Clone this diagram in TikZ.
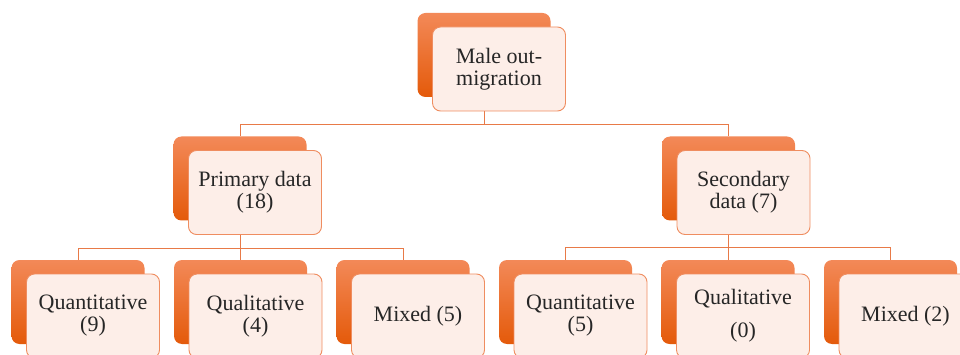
\documentclass[tikz,border=0pt]{standalone}
\usepackage{fontspec}
\setmainfont{Liberation Serif}
\usetikzlibrary{backgrounds}
\definecolor{boxtop}{RGB}{243,137,88}
\definecolor{boxbottom}{RGB}{228,90,10}
\definecolor{boxfill}{RGB}{253,238,232}
\definecolor{boxline}{RGB}{239,141,96}
\definecolor{linkline}{RGB}{232,122,72}
\begin{document}
\begin{tikzpicture}[x=1pt, y=-1pt,
    back/.style={rounded corners=8pt, minimum width=133pt, minimum height=84pt, inner sep=0pt, top color=boxtop, bottom color=boxbottom},
    front/.style={rounded corners=8pt, minimum width=133pt, minimum height=84pt, inner sep=0pt, fill=boxfill, draw=boxline, line width=0.9pt, align=center, text=black!85, font=\fontsize{22}{22}\selectfont},
    link/.style={draw=linkline, line width=0.9pt}]
\useasboundingbox (0,0) rectangle (960,355);
% back plates
\node[back] (top-b) at (484,55) {};
\node[back] (prim-b) at (240,178.5) {};
\node[back] (sec-b) at (728.5,178.5) {};
\node[back] (quant1-b) at (78,302) {};
\node[back] (qual1-b) at (240.5,302) {};
\node[back] (mixed1-b) at (403,302) {};
\node[back] (quant2-b) at (565.5,302) {};
\node[back] (qual2-b) at (728,302) {};
\node[back] (mixed2-b) at (890.5,302) {};
% front cards
\node[front] (top) at ([shift={(15,14)}]top-b) {Male out-\\migration};
\node[front] (prim) at ([shift={(15,14)}]prim-b) {Primary data\\(18)};
\node[front] (sec) at ([shift={(15,14)}]sec-b) {Secondary\\data (7)};
\node[front] (quant1) at ([shift={(15,14)}]quant1-b) {Quantitative\\(9)};
\node[front] (qual1) at ([shift={(15,14)}]qual1-b) {Qualitative\\(4)};
\node[front] (mixed1) at ([shift={(15,14)}]mixed1-b) {Mixed (5)};
\node[front] (quant2) at ([shift={(15,14)}]quant2-b) {Quantitative\\(5)};
\node[front] (qual2) at ([shift={(15,14)}]qual2-b) {Qualitative\\[11pt](0)};
\node[front] (mixed2) at ([shift={(15,14)}]mixed2-b) {Mixed (2)};
% links
\begin{pgfonlayer}{background}
    \path[link] (top-b.south) -- ++(0,27) -| (prim-b.north);
    \path[link] (top-b.south) -- ++(0,27) -| (sec-b.north);
    \foreach \kid in {quant1,qual1,mixed1}
        \path[link] (prim-b.south) -- ++(0,28) -| (\kid-b.north);
    \foreach \kid in {quant2,qual2,mixed2}
        \path[link] (sec-b.south) -- ++(0,27) -| (\kid-b.north);
\end{pgfonlayer}
\end{tikzpicture}
\end{document}
